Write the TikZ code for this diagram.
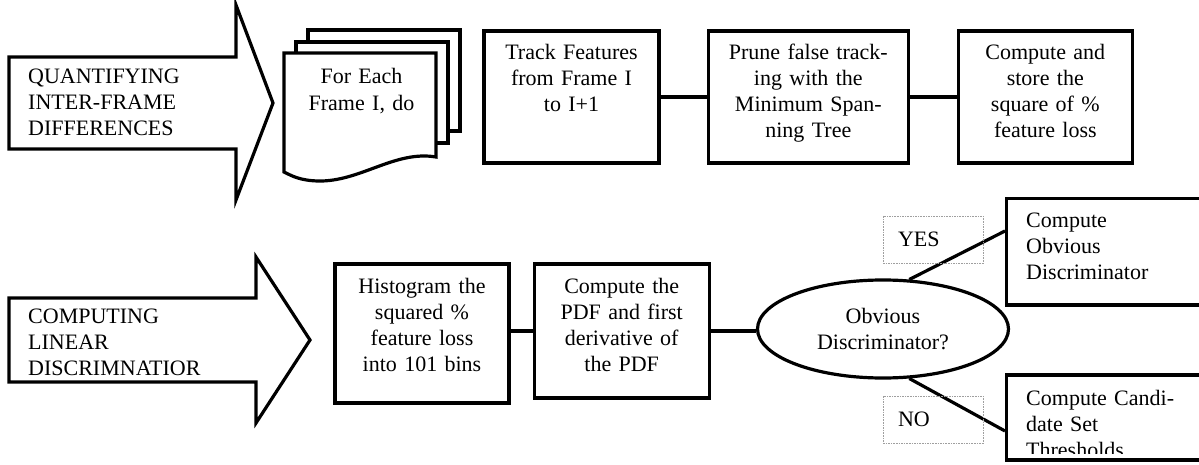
\documentclass[tikz,border=0pt]{standalone}
\usepackage{fontspec}
\setmainfont{Liberation Serif}
\usetikzlibrary{shapes.geometric}
\begin{document}
\begin{tikzpicture}[x=1pt,y=-1pt,
  every node/.style={font=\fontsize{22}{26}\selectfont},
  outline/.style={draw, line width=3.2pt, fill=white, line join=miter},
  box/.style={draw, rectangle, line width=3.4pt, inner sep=0pt, fill=white},
  boxtext/.style={inner sep=0pt, text width=#1, align=center, anchor=base},
  lefttext/.style={inner sep=0pt, text width=#1, align=left, anchor=base west},
  link/.style={line width=3.2pt},
  tag/.style={draw=gray!75, dash pattern=on 1.6pt off 1pt, line width=0.8pt,
    text width=70pt, inner xsep=15pt, inner ysep=0pt, minimum height=47pt, align=left}
]
\useasboundingbox (0,0) rectangle (1199,465);

% block arrows with the two stage titles
\draw[outline] (9,57) -- (236,57) -- (236,5) -- (273,103) -- (236,200)
  -- (236,149) -- (9,149) -- cycle;
\node[lefttext=200pt] (stage1) at (28,83.5)
  {QUANTIFYING\\INTER-FRAME\\DIFFERENCES};

\draw[outline] (9,298) -- (256,298) -- (256,257) -- (310,340) -- (256,423)
  -- (256,382) -- (9,382) -- cycle;
\node[lefttext=230pt] (stage2) at (28,323.5)
  {COMPUTING\\LINEAR\\DISCRIMNATIOR};

% stacked documents (loop over frames)
\draw[outline] (308,30) -- (460,30) -- (460,131) -- (308,131) -- cycle;
\draw[outline] (296,42) -- (448,42) -- (448,143) -- (296,143) -- cycle;
\draw[outline] (284,53) -- (436,53) -- (436,157)
  .. controls (395,150) and (360,182) .. (318,181)
  .. controls (300,180.5) and (292,176) .. (284,172) -- cycle;
\node[boxtext=140pt, font=\fontsize{22}{27}\selectfont] (loop) at (361.5,84)
  {For Each\\Frame I, do};

% first row of process boxes
\node[box, minimum width=175pt, minimum height=132pt] (track) at (571.5,97) {};
\node[box, minimum width=200pt, minimum height=132pt] (prune) at (808.3,97) {};
\node[box, minimum width=174pt, minimum height=132pt] (store) at (1045.3,97) {};
\draw[link] (track.east) -- (prune.west);
\draw[link] (prune.east) -- (store.west);
\node[boxtext=170pt] (tracktxt) at (track.center |- 0,60)
  {Track Features\\from Frame I\\to I+1};
\node[boxtext=190pt] (prunetxt) at (prune.center |- 0,60)
  {Prune false track-\\ing with the\\Minimum Span-\\ning Tree};
\node[boxtext=170pt] (storetxt) at (store.center |- 0,60)
  {Compute and\\store the\\square of \%\\feature loss};

% second row
\node[box, minimum width=174pt, minimum height=139pt] (hist) at (422,333.5) {};
\node[box, minimum width=175pt, minimum height=134pt] (pdf) at (621.7,331) {};
\node[ellipse, draw, line width=3.2pt, fill=white, inner sep=0pt,
  minimum width=251pt, minimum height=98pt, align=center] (obv) at (883,329)
  {Obvious\\Discriminator?};
\draw[link] (pdf.west -| hist.east) -- (pdf.west);
\draw[link] (pdf.east) -- (pdf.east -| obv.west);
\node[boxtext=170pt] (histtxt) at (hist.center |- 0,293)
  {Histogram the\\squared \%\\feature loss\\into 101 bins};
\node[boxtext=170pt] (pdftxt) at (pdf.center |- 0,293)
  {Compute the\\PDF and first\\derivative of\\the PDF};

% decision outcomes
\node[box, minimum width=205pt, minimum height=106.7pt] (yes) at (1109.2,251.7) {};
\node[box, minimum width=205pt, minimum height=85pt] (no) at (1109.2,417.5) {};
\draw[link] (obv.62.5) -- ([yshift=20.7pt]yes.west);
\draw[link] (obv.-62.5) -- ([yshift=-13.5pt]no.west);
\node[lefttext=170pt] (yestxt) at (1026,227)
  {Compute\\Obvious\\Discriminator};
\begin{scope}
  % the last line is cut off by the inner edge of the box
  \clip ([xshift=2pt]no.north west) rectangle ([yshift=8pt]no.south east);
  \node[lefttext=170pt] (notxt) at (1026,405)
    {Compute Candi-\\date Set\\Thresholds};
\end{scope}

% branch labels
\node[tag] (yeslbl) at (933,239.5) {YES};
\node[tag] (nolbl) at (933,419.5) {NO};
\end{tikzpicture}
\end{document}
